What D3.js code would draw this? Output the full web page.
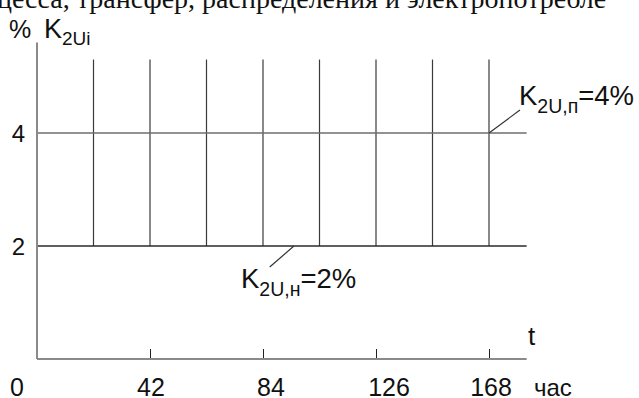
<!DOCTYPE html>
<html>
<head>
<meta charset="utf-8">
<script src="https://d3js.org/d3.v7.min.js"></script>
<style>
  html, body { margin: 0; padding: 0; background: #fff; }
  svg { display: block; }
</style>
</head>
<body>
<script>
// ---- data ----
const headerText = "цесса, трансфер, распределения и электропотребле";
const xTickValues = [0, 42, 84, 126, 168];
const xTickLabels = ["0", "42", "84", "126", "168"];
const yTickValues = [2, 4];
const yTickLabels = ["2", "4"];
const measureTimes = [21, 42, 63, 84, 105, 126, 147, 168];   // hours of K2Ui measurements
const measureTop = [5.3, 5.3, 5.3, 5.3, 5.3, 5.3, 5.3, 5.3]; // upper end of each K2Ui line, %
const normalLimit = 2;  // K2U,н, %
const maxLimit = 4;     // K2U,п, %
const xMax = 182;       // end of t axis, hours
const yMax = 5.6;       // top of % axis

// ---- layout ----
const W = 639, H = 398;
const svg = d3.select("body").append("svg").attr("width", W).attr("height", H);

const x = d3.scaleLinear().domain([0, 168]).range([37, 489]);
const y = d3.scaleLinear().domain([0, 4]).range([359, 133]);

const sans = "'Liberation Sans', Arial, sans-serif";

// header text (cut-off document line)
svg.append("text")
  .attr("x", -3).attr("y", 8)
  .attr("font-family", "'Liberation Serif', 'Times New Roman', serif")
  .attr("font-size", 28)
  .attr("fill", "#111")
  .text(headerText);

// measurement lines (vertical)
svg.append("g").selectAll("line").data(measureTimes).join("line")
  .attr("x1", d => x(d)).attr("x2", d => x(d))
  .attr("y1", y(normalLimit)).attr("y2", (d, i) => y(measureTop[i]))
  .attr("stroke", "#3a3a3a").attr("stroke-width", 1.2);

// limit lines
svg.append("line")
  .attr("x1", x(0)).attr("x2", x(xMax))
  .attr("y1", y(maxLimit)).attr("y2", y(maxLimit))
  .attr("stroke", "#6e6e6e").attr("stroke-width", 1.6);
svg.append("line")
  .attr("x1", x(0)).attr("x2", x(xMax))
  .attr("y1", y(normalLimit)).attr("y2", y(normalLimit))
  .attr("stroke", "#2a2a2a").attr("stroke-width", 1.4);

// x axis ticks (D3 axis, customised)
const xAxis = d3.axisTop(x).tickValues(xTickValues.slice(1)).tickSize(10).tickFormat("");
const gx = svg.append("g").attr("transform", `translate(0,${y(0)})`).call(xAxis);
gx.select(".domain").remove();
gx.selectAll(".tick line").attr("stroke", "#222").attr("stroke-width", 1);

// axes lines
svg.append("line")
  .attr("x1", x(0)).attr("x2", x(xMax))
  .attr("y1", y(0)).attr("y2", y(0))
  .attr("stroke", "#8a8a8a").attr("stroke-width", 2.2);
svg.append("line")
  .attr("x1", x(0)).attr("x2", x(0))
  .attr("y1", y(0)).attr("y2", y(yMax))
  .attr("stroke", "#8a8a8a").attr("stroke-width", 2);

// x tick labels
const xLabelNudge = [-20, 1, 8, 13, 2];
svg.append("g").selectAll("text").data(xTickValues).join("text")
  .attr("x", (d, i) => x(d) + xLabelNudge[i])
  .attr("y", 396)
  .attr("text-anchor", "middle")
  .attr("font-family", sans).attr("font-size", 25).attr("fill", "#111")
  .text((d, i) => xTickLabels[i]);

// y tick labels
svg.append("g").selectAll("text").data(yTickValues).join("text")
  .attr("x", 18.5)
  .attr("y", d => y(d) + 9)
  .attr("text-anchor", "middle")
  .attr("font-family", sans).attr("font-size", 24).attr("fill", "#111")
  .text((d, i) => yTickLabels[i]);

// axis titles
const yt = svg.append("text").attr("x", 9).attr("y", 38)
  .attr("font-family", sans).attr("font-size", 25).attr("fill", "#111");
yt.append("tspan").text("%");
yt.append("tspan").attr("x", 44).attr("font-size", 27).text("K");
yt.append("tspan").attr("dy", 7).attr("font-size", 19).text("2Ui");

svg.append("text").attr("x", 528).attr("y", 345)
  .attr("font-family", sans).attr("font-size", 26).attr("fill", "#111").text("t");
svg.append("text").attr("x", 534).attr("y", 396)
  .attr("font-family", sans).attr("font-size", 24).attr("fill", "#111").text("час");

// limit annotations
function limitLabel(px, py, sub, val) {
  const t = svg.append("text").attr("x", px).attr("y", py)
    .attr("font-family", sans).attr("font-size", 27.5).attr("fill", "#111");
  t.append("tspan").text("K");
  t.append("tspan").attr("dy", 8).attr("font-size", 19.5).text(sub);
  t.append("tspan").attr("dy", -8).text("=" + val + "%");
}
// K2U,н leader
svg.append("line")
  .attr("x1", x(95.5)).attr("y1", y(normalLimit))
  .attr("x2", x(86.5)).attr("y2", y(normalLimit) + 21)
  .attr("stroke", "#333").attr("stroke-width", 1.2);
limitLabel(241, 288, "2U,н", normalLimit);

// K2U,п leader
svg.append("line")
  .attr("x1", x(168)).attr("y1", y(maxLimit))
  .attr("x2", x(179.5)).attr("y2", y(maxLimit) - 23)
  .attr("stroke", "#333").attr("stroke-width", 1.2);
limitLabel(519, 105, "2U,п", maxLimit);
</script>
</body>
</html>
